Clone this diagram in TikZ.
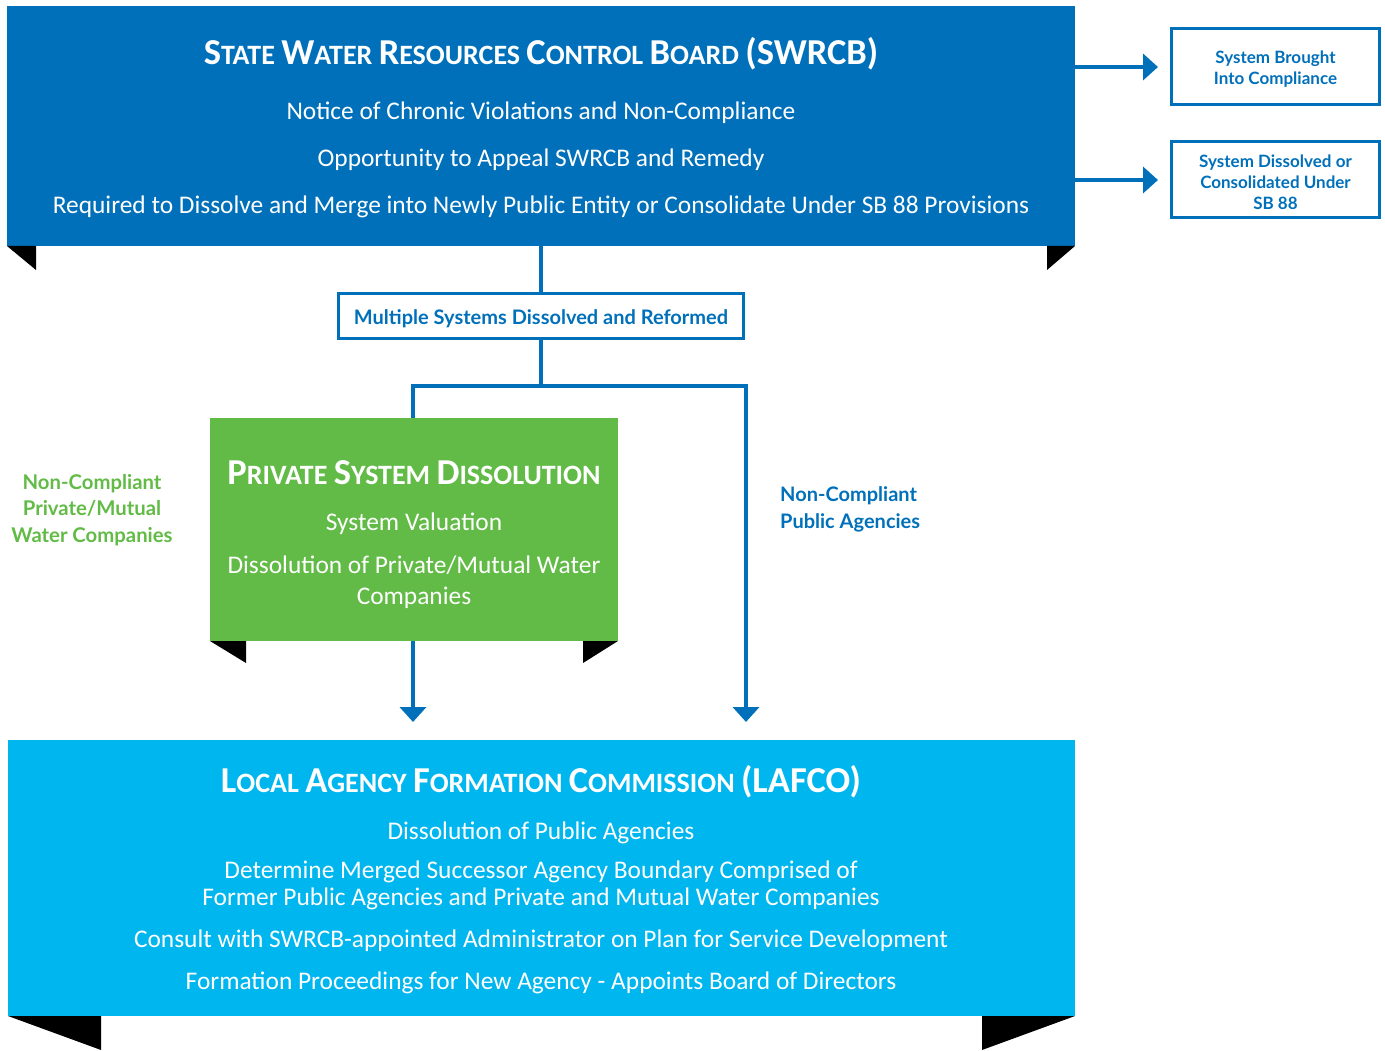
\documentclass[tikz,border=0pt]{standalone}
\usepackage{fontspec}
\setmainfont{Carlito}
\newfontfamily\lato{Lato}
\usetikzlibrary{arrows.meta}
\definecolor{dblue}{HTML}{0070BA}
\definecolor{lblue}{HTML}{00B6EE}
\definecolor{grn}{HTML}{62BB46}
\newcommand{\bigsc}[1]{{\fontsize{36.5}{40}\selectfont #1}}
\tikzset{
  fold/.style={fill=black, draw=none},
  body/.style={text=white, font=\fontsize{25.4}{29}\selectfont, inner sep=0pt},
  ttl/.style={text=white, font=\bfseries\fontsize{28}{32}\selectfont, inner sep=0pt},
  outbox/.style={draw=dblue, line width=3pt, fill=white, inner sep=0pt},
  lbl/.style={text=dblue, font=\lato\bfseries\fontsize{17}{21}\selectfont, align=center, inner sep=0pt},
  conn/.style={draw=dblue, line width=4pt},
  arr/.style={conn, -{Triangle[width=26pt,length=15pt]}},
}
\begin{document}
\begin{tikzpicture}[x=1pt,y=-1pt]
\useasboundingbox (0,0) rectangle (1385,1051);
% top panel
\fill[dblue] (7,6) rectangle (1075,246);
\coordinate (topB) at (541,246);
\fill[fold] (7,246) -- (36,246) -- (36,270) -- cycle;
\fill[fold] (1047,246) -- (1075,246) -- (1047,270) -- cycle;
\node[ttl] (t1) at (541,54) {\bigsc{S}TATE \bigsc{W}ATER \bigsc{R}ESOURCES \bigsc{C}ONTROL \bigsc{B}OARD \bigsc{(SWRCB)}};
\node[body] (t2) at (541,113) {Notice of Chronic Violations and Non-Compliance};
\node[body] (t3) at (541,160) {Opportunity to Appeal SWRCB and Remedy};
\node[body] (t4) at (541,207) {Required to Dissolve and Merge into Newly Public Entity or Consolidate Under SB 88 Provisions};
% right boxes
\node[outbox, minimum width=208pt, minimum height=76pt] (r1) at (1275.5,66.5) {};
\node[lbl] at (1275.5,69) {System Brought\\Into Compliance};
\node[outbox, minimum width=208pt, minimum height=76pt] (r2) at (1275.5,180) {};
\node[lbl] at (1275.5,182) {System Dissolved or\\Consolidated Under\\SB 88};
\coordinate (a1s) at (1075,67);
\coordinate (a2s) at (1075,180);
\draw[arr] (a1s) -- (1158,67);
\draw[arr] (a2s) -- (1158,180);
% middle box
\node[outbox, minimum width=405pt, minimum height=44pt] (mid) at (541,316) {};
\node[lbl, font=\lato\bfseries\fontsize{20}{22}\selectfont] at (541,319) {Multiple Systems Dissolved and Reformed};
\draw[conn] (topB) -- (mid.north);
\coordinate (j) at (541,386);
\coordinate (jl) at (413,386);
\coordinate (jr) at (746,386);
\draw[conn] (mid.south) -- (j);
\draw[conn, line cap=rect] (jl) -- (jr);
% green panel
\fill[grn] (210,418) rectangle (618,641);
\coordinate (gT) at (413,418);
\coordinate (gB) at (413,641);
\fill[fold] (210,641) -- (246,641) -- (246,663) -- cycle;
\fill[fold] (618,641) -- (583,641) -- (583,663) -- cycle;
\draw[conn] (jl) -- (gT);
\node[ttl] (g1) at (414,473) {\bigsc{P}RIVATE \bigsc{S}YSTEM \bigsc{D}ISSOLUTION};
\node[body] (g2) at (414,524) {System Valuation};
\node[body, align=center, font=\fontsize{25.4}{31}\selectfont] (g3) at (414,582) {Dissolution of Private/Mutual Water\\Companies};
% arrows down
\coordinate (d1) at (413,722);
\coordinate (d2) at (746,722);
\draw[arr] (gB) -- (d1);
\draw[arr] (jr) -- (d2);
% side labels
\node[lbl, text=grn, font=\lato\bfseries\fontsize{20.3}{26.5}\selectfont] (gl) at (92,510) {Non-Compliant\\Private/Mutual\\Water Companies};
\node[lbl, align=left, anchor=west, font=\lato\bfseries\fontsize{20}{27}\selectfont] (bl) at (780,509.5) {Non-Compliant\\Public Agencies};
% bottom panel
\fill[lblue] (8,740) rectangle (1075,1016);
\fill[fold] (8,1016) -- (101,1016) -- (101,1050) -- cycle;
\fill[fold] (1075,1016) -- (982,1016) -- (982,1050) -- cycle;
\node[ttl] (b1) at (541,782) {\bigsc{L}OCAL \bigsc{A}GENCY \bigsc{F}ORMATION \bigsc{C}OMMISSION \bigsc{(LAFCO)}};
\node[body] (b2) at (541,833) {Dissolution of Public Agencies};
\node[body, align=center, font=\fontsize{25.4}{27}\selectfont] (b3) at (541,885.5) {Determine Merged Successor Agency Boundary Comprised of\\Former Public Agencies and Private and Mutual Water Companies};
\node[body] (b4) at (541,941) {Consult with SWRCB-appointed Administrator on Plan for Service Development};
\node[body] (b5) at (541,983) {Formation Proceedings for New Agency - Appoints Board of Directors};
\end{tikzpicture}
\end{document}
